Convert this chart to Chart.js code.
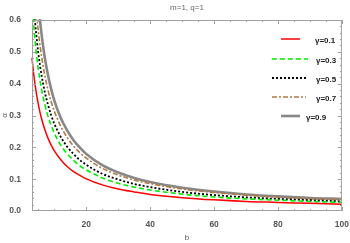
<!DOCTYPE html>
<html>
<head>
<meta charset="utf-8">
<script src="https://cdn.jsdelivr.net/npm/chart.js"></script>
<style>
  html, body { margin: 0; padding: 0; background: #fff; }
  #wrap { width: 350px; height: 243px; }
</style>
</head>
<body>
<div id="wrap"><canvas id="chart" width="350" height="243"></canvas></div>
<script>
  // values
  const bValues = [3, 3.5, 4, 4.5, 5, 5.5, 6, 7, 8, 9, 10, 12, 14, 16, 18, 20, 25, 30, 35, 40, 50, 60, 70, 80, 90, 100];
  const alpha01 = [0.481, 0.433, 0.394, 0.362, 0.334, 0.310, 0.290, 0.256, 0.229, 0.207, 0.189, 0.161, 0.140, 0.124, 0.112, 0.101, 0.082, 0.069, 0.060, 0.052, 0.042, 0.035, 0.030, 0.027, 0.024, 0.021];
  const alpha03 = [0.659, 0.587, 0.530, 0.483, 0.444, 0.410, 0.381, 0.335, 0.298, 0.269, 0.244, 0.207, 0.180, 0.159, 0.142, 0.129, 0.104, 0.087, 0.075, 0.066, 0.053, 0.044, 0.038, 0.034, 0.030, 0.027];
  const alpha05 = [0.728, 0.651, 0.589, 0.538, 0.494, 0.458, 0.426, 0.374, 0.334, 0.301, 0.274, 0.233, 0.202, 0.179, 0.160, 0.145, 0.117, 0.099, 0.085, 0.075, 0.060, 0.050, 0.043, 0.038, 0.034, 0.030];
  const alpha07 = [0.825, 0.738, 0.669, 0.611, 0.562, 0.521, 0.485, 0.426, 0.380, 0.343, 0.313, 0.266, 0.231, 0.204, 0.183, 0.166, 0.134, 0.113, 0.097, 0.086, 0.069, 0.058, 0.050, 0.043, 0.039, 0.035];
  const alpha09 = [1.005, 0.885, 0.791, 0.715, 0.652, 0.599, 0.555, 0.482, 0.427, 0.383, 0.347, 0.292, 0.253, 0.222, 0.199, 0.179, 0.144, 0.121, 0.104, 0.091, 0.073, 0.061, 0.052, 0.046, 0.041, 0.038];
  const seriesLabels = ['\u03b3=0.1', '\u03b3=0.3', '\u03b3=0.5', '\u03b3=0.7', '\u03b3=0.9'];
  const xTickValues = [20, 40, 60, 80, 100];
  const yTickValues = [0.0, 0.1, 0.2, 0.3, 0.4, 0.5, 0.6];
  const chartTitle = 'm=1, q=1';

  const toPoints = (ys) => ys.map((y, i) => ({ x: bValues[i], y: y }));

  const styles = [
    { color: '#ff0000', width: 1.5, dash: [] },
    { color: '#00ee00', width: 1.6, dash: [5, 3] },
    { color: '#000000', width: 1.8, dash: [2, 2] },
    { color: '#b07a45', width: 1.6, dash: [5, 2, 2, 2] },
    { color: '#888888', width: 2.6, dash: [] }
  ];
  const allSeries = [alpha01, alpha03, alpha05, alpha07, alpha09];

  const datasets = allSeries.map((ys, i) => ({
    label: seriesLabels[i],
    data: toPoints(ys),
    borderColor: styles[i].color,
    borderWidth: styles[i].width,
    borderDash: styles[i].dash,
    pointRadius: 0,
    fill: false,
    cubicInterpolationMode: 'monotone',
    clip: 1
  }));

  // frame with inward ticks on all four sides, Mathematica style
  const framePlugin = {
    id: 'frame',
    afterDatasetsDraw(chart) {
      const { ctx, chartArea: a, scales } = chart;
      const xs = scales.x, ys = scales.y;
      ctx.save();
      ctx.strokeStyle = '#a0a0a0';
      ctx.lineWidth = 1;
      ctx.strokeRect(a.left + 0.5, a.top + 0.5, a.right - a.left - 1, a.bottom - a.top - 1);
      ctx.beginPath();
      for (let v = 5; v <= 100; v += 5) {
        const px = Math.round(xs.getPixelForValue(v)) + 0.5;
        const len = v % 20 === 0 ? 4 : 2;
        ctx.moveTo(px, a.bottom); ctx.lineTo(px, a.bottom - len);
        ctx.moveTo(px, a.top); ctx.lineTo(px, a.top + len);
      }
      for (let k = 1; k < 30; k++) {
        const v = k * 0.02;
        const py = Math.round(ys.getPixelForValue(v)) + 0.5;
        const len = k % 5 === 0 ? 4 : 2;
        ctx.moveTo(a.left, py); ctx.lineTo(a.left + len, py);
        ctx.moveTo(a.right, py); ctx.lineTo(a.right - len, py);
      }
      ctx.stroke();

      // title
      ctx.fillStyle = '#666';
      ctx.font = '8px "Liberation Sans", Arial, sans-serif';
      ctx.textAlign = 'center';
      ctx.textBaseline = 'middle';
      ctx.fillText(chartTitle, (a.left + a.right) / 2, 8);

      // legend inside the plot
      const rows = [
        { y: 39, x0: 281, x1: 300, tx: 315 },
        { y: 59, x0: 272, x1: 308, tx: 316 },
        { y: 78, x0: 272, x1: 306, tx: 316 },
        { y: 97, x0: 272, x1: 306, tx: 316 },
        { y: 116, x0: 281, x1: 300, tx: 306 }
      ];
      ctx.textAlign = 'left';
      ctx.font = 'bold 8px "Liberation Sans", Arial, sans-serif';
      rows.forEach((r, i) => {
        const s = styles[i];
        ctx.strokeStyle = s.color;
        ctx.lineWidth = s.width;
        ctx.setLineDash(s.dash);
        ctx.beginPath();
        ctx.moveTo(r.x0, r.y); ctx.lineTo(r.x1, r.y);
        ctx.stroke();
        ctx.setLineDash([]);
        ctx.fillStyle = '#222';
        ctx.fillText(seriesLabels[i], r.tx, r.y + 2);
      });
      ctx.restore();
    }
  };

  new Chart(document.getElementById('chart').getContext('2d'), {
    type: 'line',
    data: { datasets: datasets },
    options: {
      responsive: false,
      animation: false,
      layout: { padding: { left: 0, right: 8, top: 20, bottom: 0 } },
      plugins: {
        legend: { display: false },
        tooltip: { enabled: false }
      },
      scales: {
        x: {
          type: 'linear',
          min: 3,
          max: 100,
          grid: { display: false },
          border: { display: false },
          afterFit: (s) => { s.height = 32; },
          afterBuildTicks: (s) => { s.ticks = xTickValues.map((v) => ({ value: v })); },
          ticks: {
            padding: 1,
            color: '#555',
            font: { size: 8.5, weight: 'bold', family: '"Liberation Sans", Arial, sans-serif' },
            maxRotation: 0,
            callback: (v) => String(v)
          },
          title: {
            display: true,
            text: 'b',
            color: '#555',
            padding: { top: 4, bottom: 0 },
            font: { size: 8, family: '"Liberation Sans", Arial, sans-serif' }
          }
        },
        y: {
          min: 0,
          max: 0.6,
          grid: { display: false },
          border: { display: false },
          afterFit: (s) => { s.width = 32; },
          afterBuildTicks: (s) => { s.ticks = yTickValues.map((v) => ({ value: v })); },
          ticks: {
            padding: 3,
            color: '#555',
            font: { size: 8.5, weight: 'bold', family: '"Liberation Sans", Arial, sans-serif' },
            callback: (v) => Number(v).toFixed(1)
          },
          title: {
            display: true,
            text: '\u03b1',
            color: '#555',
            padding: { top: 0, bottom: 0 },
            font: { size: 8, family: '"Liberation Sans", Arial, sans-serif' }
          }
        }
      }
    },
    plugins: [framePlugin]
  });
</script>
</body>
</html>
